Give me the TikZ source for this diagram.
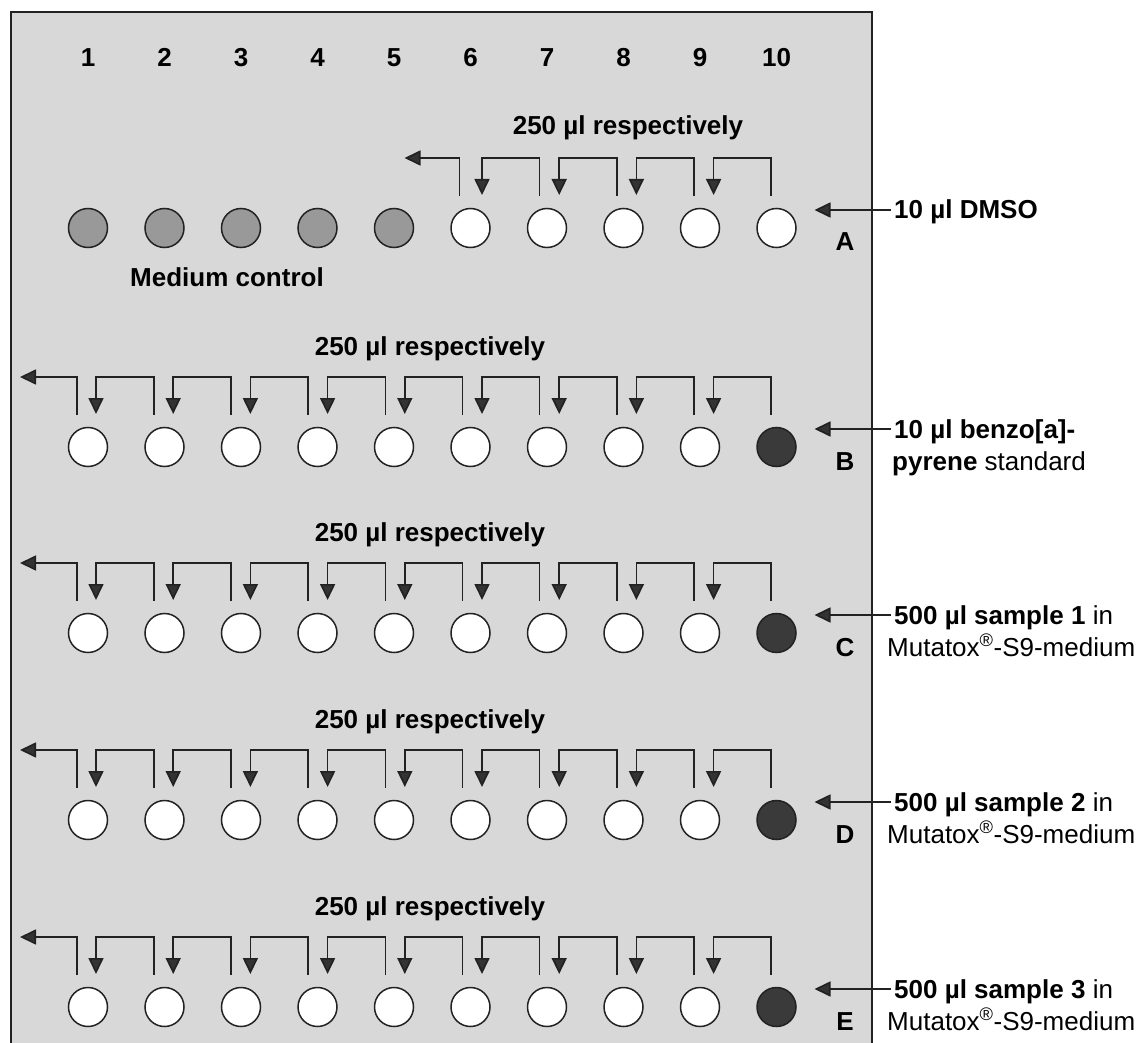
\documentclass[tikz,border=0pt]{standalone}
\usepackage{fontspec}
\setmainfont{Liberation Sans}
\usetikzlibrary{arrows.meta,calc}
\definecolor{panelc}{HTML}{D8D8D8}
\definecolor{linec}{HTML}{222222}
\definecolor{tipc}{HTML}{333333}
\definecolor{medc}{HTML}{999999}
\definecolor{darkc}{HTML}{3A3A3A}
\begin{document}
\begin{tikzpicture}[x=1pt,y=-1pt,
  well/.style={circle,draw=linec,line width=1.5pt,minimum size=39pt,inner sep=0pt},
  emptywell/.style={well,fill=white},
  medwell/.style={well,fill=medc},
  darkwell/.style={well,fill=darkc},
  flow/.style={draw=linec,line width=1.7pt,-{Triangle[length=16pt,width=15pt,fill=tipc]}},
  bigtxt/.style={font=\fontsize{26}{30}\selectfont\bfseries,inner sep=0pt,anchor=base},
  sidetxt/.style={font=\fontsize{26}{30}\selectfont,inner sep=0pt,anchor=base west}]
\useasboundingbox (0,0) rectangle (1141,1043);
\fill[white] (0,0) rectangle (1141,1043);
\draw[fill=panelc,draw=linec,line width=1.5pt] (11,12) rectangle (872,1070);
% column numbers
\foreach \k in {1,...,10}{
  \pgfmathsetmacro\xx{88+76.5*(\k-1)}
  \node[bigtxt] (num\k) at (\xx,67) {\k};
}
% row A wells
\foreach \k in {1,...,5}{
  \pgfmathsetmacro\xx{88+76.5*(\k-1)}
  \node[medwell] (A\k) at (\xx,228) {};
}
\foreach \k in {6,...,10}{
  \pgfmathsetmacro\xx{88+76.5*(\k-1)}
  \node[emptywell] (A\k) at (\xx,228) {};
}
\node[bigtxt] (medctl) at (227,287) {Medium control};
\node[bigtxt] (respA) at (628,135) {250 µl respectively};
\foreach \k in {7,...,10}{
  \pgfmathtruncatemacro\j{\k-1}
  \pgfmathsetmacro\so{-11+0.6*(\k-1)}
  \pgfmathsetmacro\ao{8+0.7*(\j-1)}
  \draw[flow] ($(A\k)+(\so,-32)$) |- ($(A\j)+(\ao,-70)$) -- ($(A\j)+(\ao,-33)$);
}
\draw[flow] ($(A6)+(-11,-32)$) |- ($(A6)+(-66,-70)$);
% rows B-E
\foreach \r/\y in {B/447,C/633,D/820,E/1007}{
  \foreach \k in {1,...,9}{
    \pgfmathsetmacro\xx{88+76.5*(\k-1)}
    \node[emptywell] (\r\k) at (\xx,\y) {};
  }
  \node[darkwell] (\r10) at (776.5,\y) {};
  \node[bigtxt] (resp\r) at (430,\y-92) {250 µl respectively};
  \foreach \k in {2,...,10}{
    \pgfmathtruncatemacro\j{\k-1}
    \pgfmathsetmacro\so{-11+0.6*(\k-1)}
    \pgfmathsetmacro\ao{8+0.7*(\j-1)}
    \draw[flow] ($(\r\k)+(\so,-32)$) |- ($(\r\j)+(\ao,-70)$) -- ($(\r\j)+(\ao,-33)$);
  }
  \draw[flow] ($(\r1)+(-11,-32)$) |- ($(\r1)+(-68,-70)$);
}
% row letters
\foreach \r/\y in {A/228,B/447,C/633,D/820,E/1007}{
  \node[bigtxt] (let\r) at (845,\y+23) {\r};
  \coordinate (tip\r) at (814.5,\y-18);
}
% side labels
\node[sidetxt,font=\fontsize{26}{30}\selectfont\bfseries] (labA1) at (894,219) {10 µl DMSO};
\node[sidetxt,font=\fontsize{26}{30}\selectfont\bfseries] (labB1) at (894,438) {10 µl benzo[a]-};
\node[sidetxt] (labB2) at (892,470) {\textbf{pyrene} standard};
\foreach \r/\y/\n in {C/624/1,D/811/2,E/998/3}{
  \node[sidetxt] (lab\r1) at (894,\y) {\textbf{500 µl sample \n} in};
  \node[sidetxt] (lab\r2) at (887,\y+32) {Mutatox\textsuperscript{®}-S9-medium};
}
\foreach \r in {A,B,C,D,E}{
  \draw[flow] ([xshift=-3pt]lab\r1.west |- tip\r) -- (tip\r);
}
\end{tikzpicture}
\end{document}
